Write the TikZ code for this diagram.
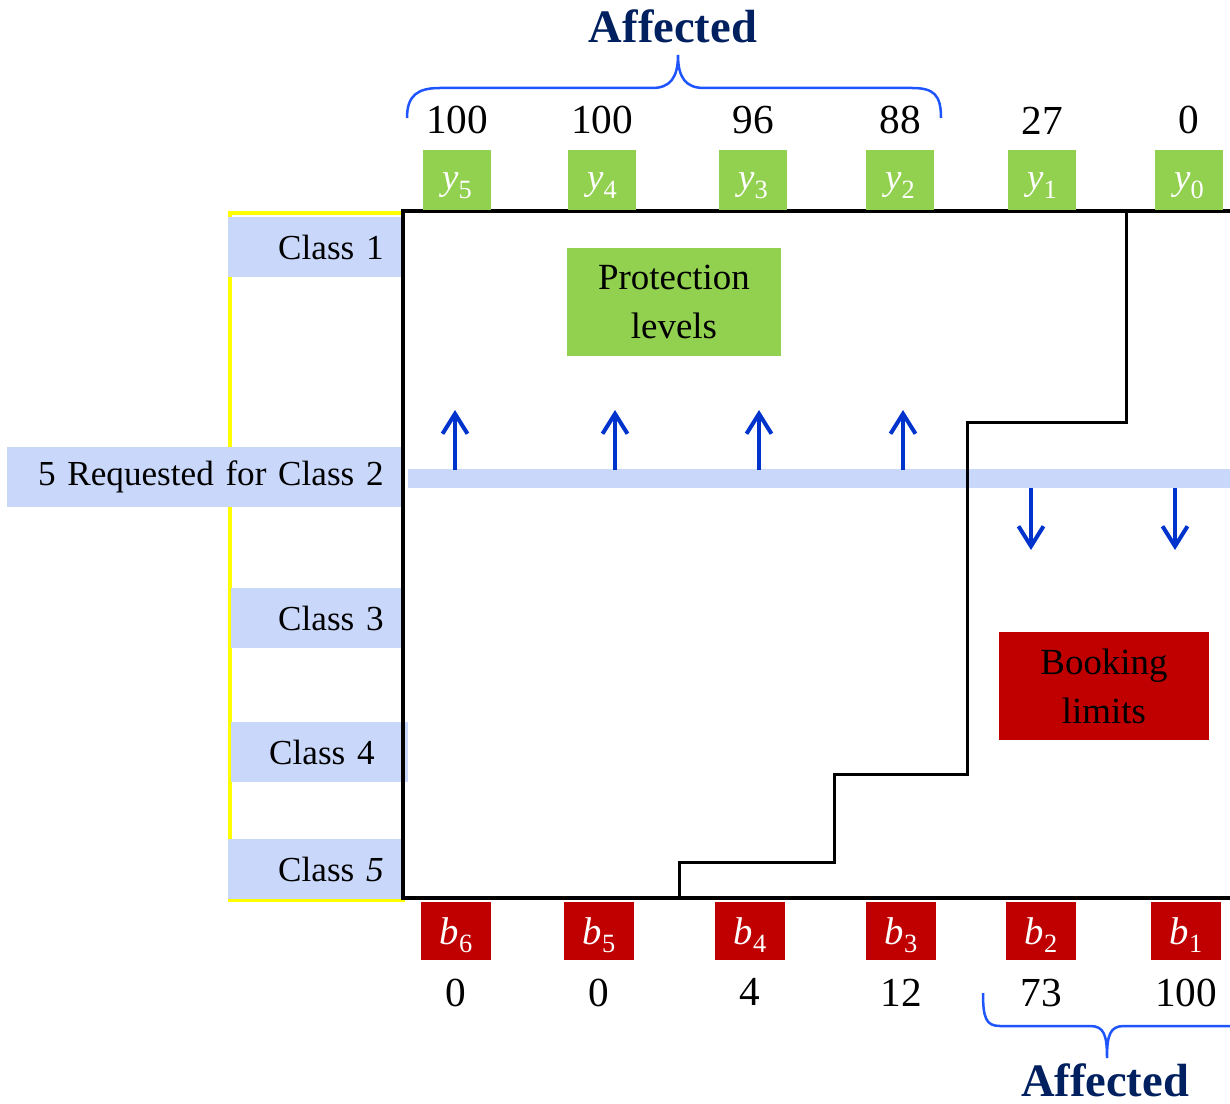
\documentclass[tikz,border=0pt]{standalone}
\usepackage{fontspec}
\setmainfont{Liberation Serif}
\usetikzlibrary{positioning, arrows.meta}

\definecolor{classblue}{HTML}{C9D7FA}
\definecolor{protgreen}{HTML}{92D050}
\definecolor{bookred}{HTML}{C00000}
\definecolor{arrowblue}{HTML}{0033CC}
\definecolor{braceblue}{HTML}{1F55FF}
\definecolor{navy}{HTML}{002060}
\definecolor{frameyellow}{HTML}{FFFF00}

\newcommand{\lvl}[2]{\textit{#1}\raisebox{-0.5ex}{\fontsize{15}{15}\selectfont #2}}

\begin{document}
\begin{tikzpicture}[x=0.02cm, y=-0.02cm,
    cls/.style={fill=classblue, minimum height=1.2cm, inner ysep=0, inner xsep=0.38cm,
      text width=2.74cm, align=right, anchor=east, font=\fontsize{20}{24}\selectfont},
    ybox/.style={fill=protgreen, minimum width=1.36cm, minimum height=1.2cm, inner sep=0,
      text height=0.8cm, text depth=0.4cm, text=white, font=\fontsize{21}{25}\selectfont},
    bbox/.style={fill=bookred, minimum width=1.4cm, minimum height=1.16cm, inner sep=0,
      text height=0.84cm, text depth=0.32cm, text=white, font=\fontsize{22}{25}\selectfont},
    note/.style={minimum height=2.18cm, align=center, inner sep=0, font=\fontsize{21}{28}\selectfont},
    num/.style={inner sep=0, font=\fontsize{23.5}{26}\selectfont},
    affected/.style={inner sep=0, text=navy, font=\fontsize{26.5}{30}\selectfont\bfseries},
    brace/.style={draw=braceblue, line width=0.05cm},
    move/.style={draw=arrowblue, line width=0.08cm, -{Straight Barb[length=0.4cm, width=0.5cm]}},
    frame/.style={draw, line width=0.08cm},
    stairs/.style={draw, line width=0.06cm}]
  \path[use as bounding box] (0,0) rectangle (1230,1104);

  % classes
  \draw[frameyellow, line width=0.08cm] (230,213) rectangle (403,900);
  \node[cls] (c1) at (403,247) {Class 1};
  \node[cls, text width=7.16cm] (c2) at (403,477) {\mbox{5 Requested for Class 2}};
  \node[cls, text width=2.68cm] (c3) at (403,618) {Class 3};
  \node[cls, inner xsep=0.66cm, text width=2.22cm] (c4) at (408,752) {\mbox{Class 4}};
  \node[cls] (c5) at (403,869) {Class \textit{5}};

  % request bar and shifts
  \fill[classblue] (408,469) rectangle (1232,488);
  \foreach \x in {455,615,759,903}
    \draw[move] (\x,470) -- (\x,410);
  \foreach \x in {1031,1175}
    \draw[move] (\x,488) -- (\x,550);

  % nesting
  \draw[stairs] (679,898) |- (834,862) |- (967,774) |- (1126,423) -- (1126,211);
  \draw[frame] (1232,211) -- (403,211) -- (403,898) -- (1232,898);

  % protection levels
  \foreach \i/\x/\v in {5/457/100, 4/602/100, 3/753/96, 2/900/88, 1/1042/27, 0/1189/0} {
    \node[ybox] (y\i) at (\x,180) {\lvl{y}{\i}};
    \node[num, above=0.3cm of y\i] (ny\i) {\v};
  }
  % booking limits
  \foreach \i/\x/\v in {6/456/0, 5/599/0, 4/750/4, 3/901/12, 2/1041/73, 1/1186/100} {
    \node[bbox] (b\i) at (\x,931) {\lvl{b}{\i}};
    \node[num, below=0.36cm of b\i] (nb\i) {\v};
  }

  \node[note, fill=protgreen, minimum width=4.28cm] (prot) at (674,302) {Protection\\levels};
  \node[note, fill=bookred, minimum width=4.2cm] (book) at (1104,686) {Booking\\limits};

  % affected
  \draw[brace] (407,118) .. controls (407,95) and (418,88) .. (440,88) -- (652,88)
    .. controls (670,88) and (678,78) .. (678,55)
    .. controls (678,78) and (686,88) .. (704,88) -- (912,88)
    .. controls (934,88) and (941,95) .. (941,118);
  \node[affected, anchor=north] (aff1) at (673,9) {Affected};
  \draw[brace] (983,993) .. controls (983,1018) and (986,1026) .. (1000,1026) -- (1090,1026)
    .. controls (1104,1026) and (1107,1035) .. (1107,1058)
    .. controls (1107,1035) and (1110,1026) .. (1124,1026) -- (1240,1026);
  \node[affected, anchor=north] (aff2) at (1105,1063) {Affected};
\end{tikzpicture}
\end{document}
